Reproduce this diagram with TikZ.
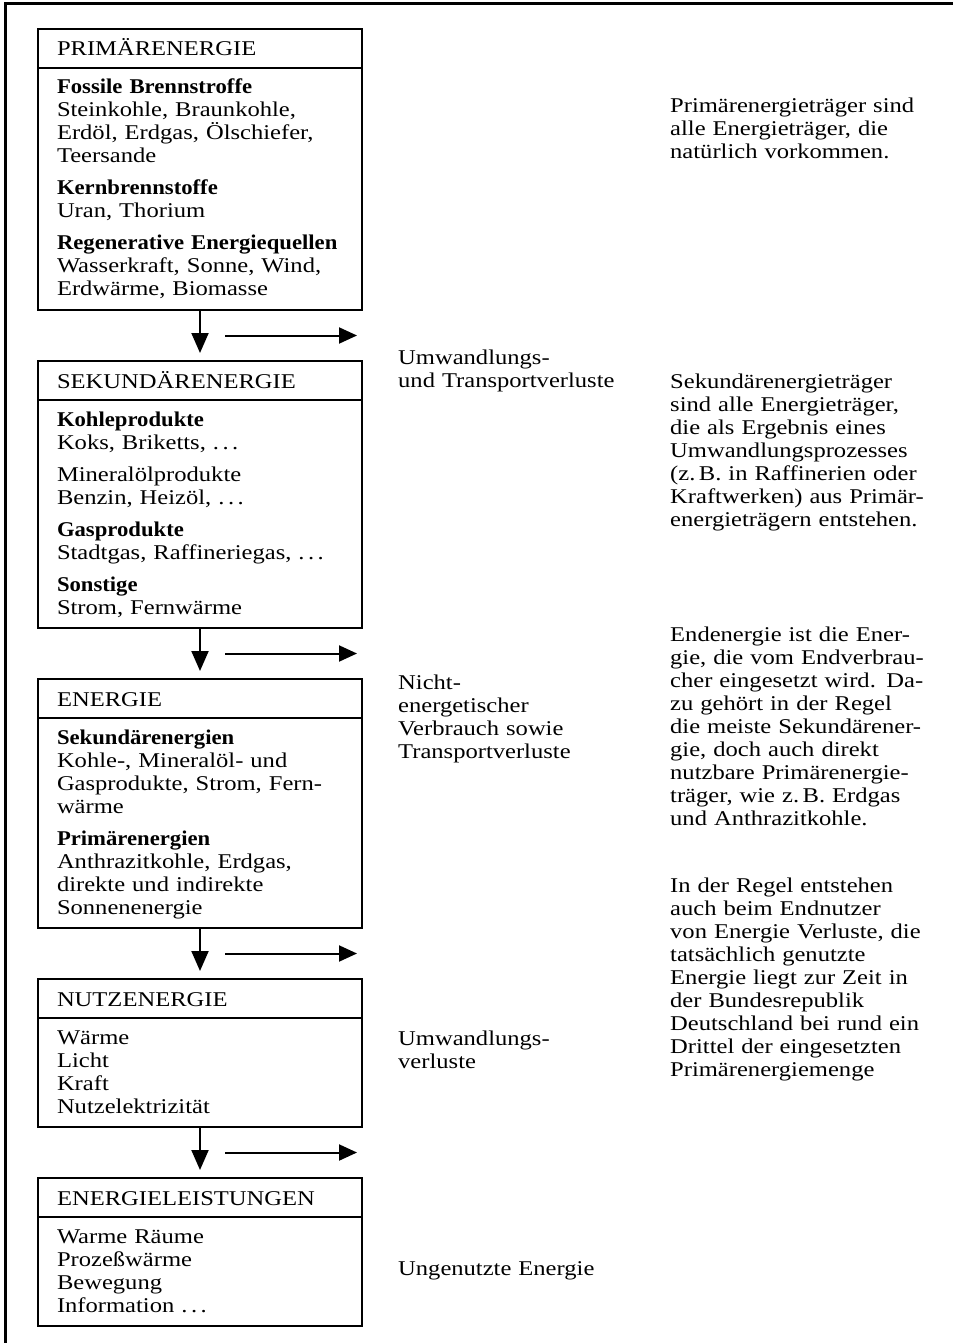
\documentclass[tikz,border=0pt]{standalone}
\usepackage{fontspec}
\setmainfont[FakeStretch=1.17,BoldFeatures={FakeStretch=1.08}]{Liberation Serif}
\usetikzlibrary{positioning,arrows.meta,calc}

\begin{document}
\begin{tikzpicture}
[x=1pt,y=-1pt,font=\fontsize{21}{23}\selectfont,
 head/.style={shape=rectangle,draw,line width=1.8pt,outer sep=0pt,text width=286pt,inner xsep=19pt,
   minimum height=39pt,text height=15pt,text depth=0pt,align=left},
 body/.style={shape=rectangle,draw,line width=1.8pt,outer sep=0pt,text width=286pt,inner xsep=19pt,
   inner ysep=0pt,align=left,
   execute at begin node=\rule{0pt}{26pt},
   execute at end node=\rule[-14pt]{0pt}{14pt}},
 note/.style={anchor=base west,text width=300pt,align=left,inner sep=0pt},
 flow/.style={line width=2pt,-{Triangle[length=20pt,width=17pt]},shorten >=8pt},
 loss/.style={line width=2pt,-{Triangle[length=18pt,width=16pt]}},
 node distance=51pt]
\useasboundingbox (0,0) rectangle (953,1343);
\draw[line width=3pt] (5,1343) -- (5,4) -- (953,4);

\node[head] (h1) at (38,29) [anchor=north west] {PRIMÄRENERGIE};
\node[body] (b1) [below=0pt of h1] {\textbf{Fossile Brennstroffe}\\
  Steinkohle, Braunkohle,\\ Erdöl, Erdgas, Ölschiefer,\\ Teersande\\[9pt]
  \textbf{Kernbrennstoffe}\\ Uran, Thorium\\[9pt]
  \mbox{\textbf{Regenerative Energiequellen}}\\ Wasserkraft, Sonne, Wind,\\ Erdwärme, Biomasse};
\node[head] (h2) [below=of b1] {SEKUNDÄRENERGIE};
\node[body] (b2) [below=0pt of h2] {\textbf{Kohleprodukte}\\ Koks, Briketts, .\,.\,.\\[9pt]
  Mineralölprodukte\\ Benzin, Heizöl, .\,.\,.\\[9pt]
  \textbf{Gasprodukte}\\ Stadtgas, Raffineriegas, .\,.\,.\\[9pt]
  \textbf{Sonstige}\\ Strom, Fernwärme};
\node[head] (h3) [below=of b2] {ENERGIE};
\node[body] (b3) [below=0pt of h3] {\textbf{Sekundärenergien}\\
  Kohle-, Mineralöl- und\\ Gasprodukte, Strom, Fern-\\ wärme\\[9pt]
  \textbf{Primärenergien}\\ Anthrazitkohle, Erdgas,\\ direkte und indirekte\\ Sonnenenergie};
\node[head] (h4) [below=of b3] {NUTZENERGIE};
\node[body] (b4) [below=0pt of h4] {Wärme\\ Licht\\ Kraft\\ Nutzelektrizität};
\node[head] (h5) [below=of b4] {ENERGIELEISTUNGEN};
\node[body] (b5) [below=0pt of h5] {Warme Räume\\ Prozeßwärme\\ Bewegung\\ Information .\,.\,.};

\foreach \a/\b in {b1/h2,b2/h3,b3/h4,b4/h5}{
  \draw[flow] (\a) -- (\b);
  \coordinate (m\a) at ($(\a.south)!.5!(\b.north)$);
  \draw[loss] ([xshift=25pt]m\a) -- ([xshift=157pt]m\a);
}

\node[note] (v1) at (398,364) {Umwandlungs-\\und Transportverluste};
\node[note] (v2) at (398,689) {Nicht-\\energetischer\\Verbrauch sowie\\Transportverluste};
\node[note] (v3) at (398,1045) {Umwandlungs-\\verluste};
\node[note] (v4) at (398,1275) {Ungenutzte Energie};

\node[note] (n1) at (670,113) {Primärenergieträger sind\\alle Energieträger, die\\natürlich vorkommen.};
\node[note] (n2) at (670,388) {Sekundärenergieträger\\sind alle Energieträger,\\die als Ergebnis eines\\Umwandlungsprozesses\\(z.\,B. in Raffinerien oder\\Kraftwerken) aus Primär-\\energieträgern entstehen.};
\node[note] (n3) at (670,641) {Endenergie ist die Ener-\\gie, die vom Endverbrau-\\cher eingesetzt wird. Da-\\zu gehört in der Regel\\die meiste Sekundärener-\\gie, doch auch direkt\\nutzbare Primärenergie-\\träger, wie z.\,B. Erdgas\\und Anthrazitkohle.};
\node[note] (n4) at (670,892) {In der Regel entstehen\\auch beim Endnutzer\\von Energie Verluste, die\\tatsächlich genutzte\\Energie liegt zur Zeit in\\der Bundesrepublik\\Deutschland bei rund ein\\Drittel der eingesetzten\\Primärenergiemenge};
\end{tikzpicture}
\end{document}
